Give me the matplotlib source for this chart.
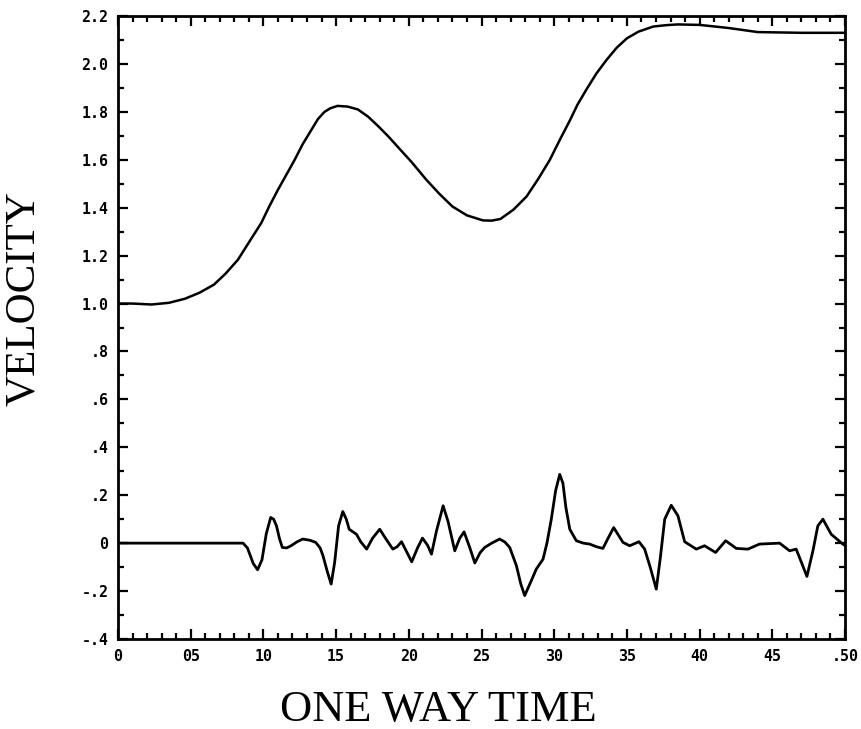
import matplotlib
matplotlib.use("Agg")
import matplotlib.pyplot as plt
from matplotlib.ticker import MultipleLocator, FixedLocator

# Upper curve: interval velocity vs one-way time
t_vel = [0.000, 0.010, 0.023, 0.035, 0.046, 0.056, 0.066, 0.074, 0.0825,
         0.090, 0.0985, 0.104, 0.110, 0.116, 0.1215, 0.127, 0.133, 0.1375,
         0.142, 0.146, 0.151, 0.158, 0.165, 0.172, 0.179, 0.186, 0.193,
         0.202, 0.212, 0.221, 0.230, 0.240, 0.251, 0.257, 0.263, 0.272,
         0.281, 0.289, 0.297, 0.304, 0.311, 0.316, 0.322, 0.329, 0.336,
         0.343, 0.350, 0.358, 0.368, 0.377, 0.385, 0.400, 0.420, 0.440,
         0.470, 0.500]
v_vel = [1.000, 1.000, 0.996, 1.003, 1.020, 1.045, 1.079, 1.125, 1.183,
         1.255, 1.336, 1.405, 1.475, 1.540, 1.600, 1.665, 1.725, 1.770,
         1.800, 1.815, 1.825, 1.822, 1.810, 1.780, 1.740, 1.697, 1.650,
         1.590, 1.517, 1.458, 1.405, 1.368, 1.347, 1.346, 1.353, 1.392,
         1.447, 1.520, 1.600, 1.685, 1.767, 1.830, 1.892, 1.960, 2.017,
         2.068, 2.107, 2.135, 2.156, 2.162, 2.165, 2.163, 2.150, 2.133,
         2.130, 2.130]

# Lower curve: reflectivity-like trace
t_ref = [0.000, 0.086, 0.089, 0.093, 0.096, 0.099, 0.102, 0.105, 0.107,
         0.109, 0.111, 0.113, 0.116, 0.119, 0.123, 0.127, 0.132, 0.136,
         0.139, 0.141, 0.144, 0.1466, 0.149, 0.1517, 0.1546, 0.157, 0.159,
         0.164, 0.167, 0.171, 0.175, 0.180, 0.184, 0.189, 0.192, 0.195,
         0.198, 0.202, 0.206, 0.2094, 0.213, 0.2156, 0.219, 0.2236, 0.227,
         0.2316, 0.235, 0.238, 0.242, 0.2454, 0.249, 0.2522, 0.257, 0.2625,
         0.266, 0.2694, 0.274, 0.277, 0.2797, 0.284, 0.2877, 0.2923, 0.295,
         0.298, 0.301, 0.3038, 0.306, 0.308, 0.3107, 0.3152, 0.320, 0.3244,
         0.329, 0.3335, 0.337, 0.3409, 0.344, 0.3473, 0.3519, 0.3583,
         0.3622, 0.366, 0.3702, 0.373, 0.376, 0.3805, 0.3851, 0.3897,
         0.3977, 0.4034, 0.411, 0.4179, 0.4252, 0.4332, 0.4412, 0.455,
         0.4619, 0.4664, 0.470, 0.4738, 0.478, 0.4813, 0.4848, 0.4905,
         0.4985, 0.500]
v_ref = [0.000, 0.000, -0.020, -0.085, -0.111, -0.070, 0.040, 0.107, 0.100,
         0.072, 0.020, -0.018, -0.020, -0.011, 0.005, 0.017, 0.012, 0.003,
         -0.020, -0.053, -0.120, -0.171, -0.080, 0.072, 0.132, 0.100, 0.058,
         0.037, 0.005, -0.025, 0.020, 0.058, 0.020, -0.025, -0.015, 0.006,
         -0.030, -0.078, -0.020, 0.021, -0.010, -0.046, 0.050, 0.156, 0.090,
         -0.032, 0.020, 0.047, -0.020, -0.083, -0.040, -0.018, 0.000, 0.017,
         0.005, -0.018, -0.094, -0.170, -0.219, -0.160, -0.108, -0.067, 0.000,
         0.100, 0.220, 0.287, 0.250, 0.150, 0.058, 0.010, 0.000, -0.004,
         -0.015, -0.022, 0.020, 0.065, 0.035, 0.003, -0.011, 0.006,
         -0.025, -0.100, -0.192, -0.060, 0.100, 0.158, 0.114, 0.006,
         -0.025, -0.011, -0.039, 0.010, -0.022, -0.025, -0.004, 0.000,
         -0.032, -0.025, -0.080, -0.139, -0.030, 0.072, 0.100, 0.037,
         -0.004, -0.010]

x_ticks = [0.0, 0.05, 0.10, 0.15, 0.20, 0.25, 0.30, 0.35, 0.40, 0.45, 0.50]
x_labels = ["0", "05", "10", "15", "20", "25", "30", "35", "40", "45", ".50"]
y_ticks = [-0.4, -0.2, 0.0, 0.2, 0.4, 0.6, 0.8, 1.0, 1.2, 1.4, 1.6, 1.8, 2.0, 2.2]
y_labels = ["-.4", "-.2", "0", ".2", ".4", ".6", ".8", "1.0", "1.2", "1.4",
            "1.6", "1.8", "2.0", "2.2"]

fig = plt.figure(figsize=(8.62, 7.29), dpi=100)
ax = fig.add_axes([0.1369, 0.1235, 0.8434, 0.8545])

ax.plot(t_vel, v_vel, color="black", lw=1.8, solid_joinstyle="round")
ax.plot(t_ref, v_ref, color="black", lw=2.0, solid_joinstyle="round")

ax.set_xlim(0, 0.5)
ax.set_ylim(-0.4, 2.2)

ax.xaxis.set_major_locator(FixedLocator(x_ticks))
ax.set_xticklabels(x_labels)
ax.xaxis.set_minor_locator(MultipleLocator(0.01))
ax.yaxis.set_major_locator(FixedLocator(y_ticks))
ax.set_yticklabels(y_labels)
ax.yaxis.set_minor_locator(MultipleLocator(0.1))

ax.tick_params(which="both", direction="in", top=True, right=True,
               color="black", width=1.6)
ax.tick_params(which="major", length=7, pad=7)
ax.tick_params(which="minor", length=4.5)
for lab in ax.get_xticklabels() + ax.get_yticklabels():
    lab.set_family("DejaVu Sans Mono")
    lab.set_fontweight("bold")
    lab.set_fontsize(10.8)

for sp in ax.spines.values():
    sp.set_linewidth(2.0)

fig.text(0.508, 0.011, "ONE WAY TIME", ha="center", va="baseline",
         family="Liberation Serif", fontsize=32)
fig.text(0.028, 0.591, "VELOCITY", ha="center", va="center", rotation=90,
         family="Liberation Serif", fontsize=31)

fig.savefig("out.png", dpi=100)
